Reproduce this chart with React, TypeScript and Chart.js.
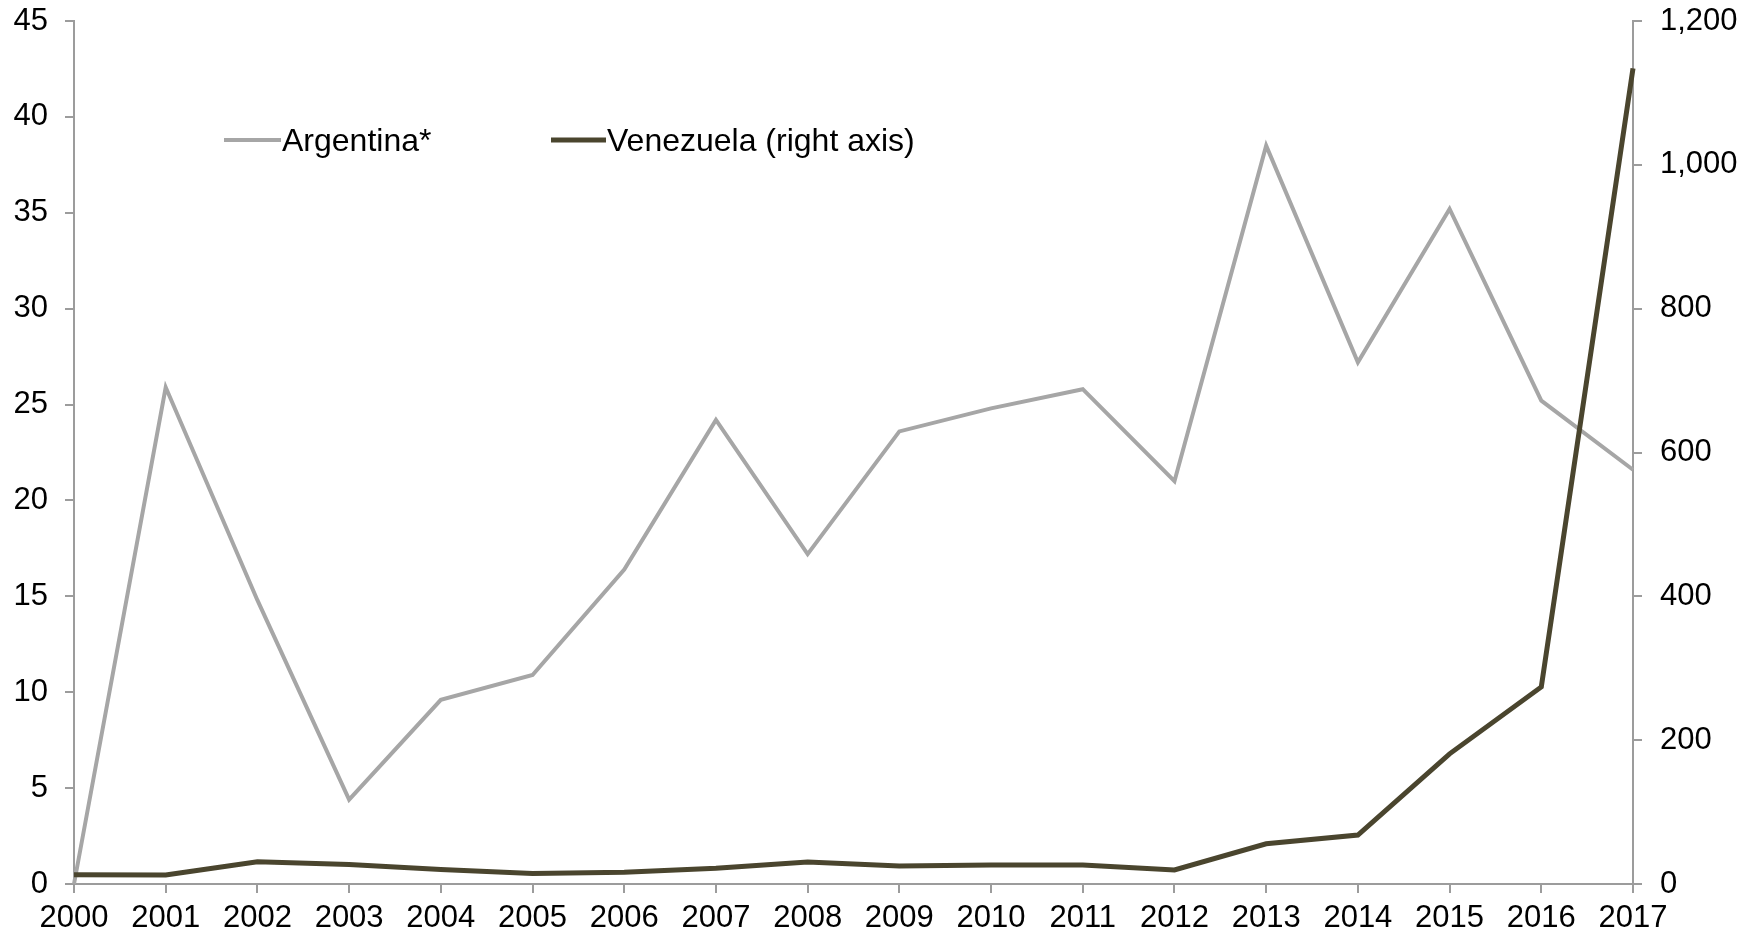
import React, { useEffect, useRef } from "react";
import { Chart, registerables } from "chart.js";

Chart.register(...registerables);

const years = ["2000","2001","2002","2003","2004","2005","2006","2007","2008","2009","2010","2011","2012","2013","2014","2015","2016","2017"];
const argentina = [0, 25.9, 14.8, 4.4, 9.6, 10.9, 16.4, 24.2, 17.2, 23.6, 24.8, 25.8, 21.0, 38.5, 27.2, 35.2, 25.2, 21.6];
const venezuela = [13, 12.5, 31, 27, 20, 14.5, 16.5, 22, 30.5, 25, 26.5, 26.5, 19.5, 56, 68, 181, 274, 1134];
const leftTicks = [0, 45, 5];
const rightTicks = [0, 1200, 200];

const FONT = "'Liberation Sans', Arial, Helvetica, sans-serif";
const GRAY = "#A6A6A6";
const OLIVE = "#4A452E";
const AXIS = "#9C9C9C";

const legendPlugin = {
  id: "customLegend",
  afterDraw(chart: any) {
    const ctx = chart.ctx;
    const items = [
      { ds: chart.data.datasets[0], x0: 224, x1: 281 },
      { ds: chart.data.datasets[1], x0: 551, x1: 606 },
    ];
    const y = 140;
    ctx.save();
    ctx.font = `32px ${FONT}`;
    ctx.textBaseline = "middle";
    ctx.textAlign = "left";
    for (const it of items) {
      ctx.strokeStyle = it.ds.borderColor;
      ctx.lineWidth = it.ds.borderWidth;
      ctx.beginPath();
      ctx.moveTo(it.x0, y);
      ctx.lineTo(it.x1, y);
      ctx.stroke();
      ctx.fillStyle = "#000";
      ctx.fillText(it.ds.label, it.x1 + 1, y + 2);
    }
    ctx.restore();
  },
};

export default function App() {
  const ref = useRef<HTMLCanvasElement>(null);
  useEffect(() => {
    document.body.style.margin = "0";
    const tickFont = { family: FONT, size: 31 };
    const gridCfg = {
      display: true,
      drawOnChartArea: false,
      drawTicks: true,
      tickLength: 9,
      color: AXIS,
      lineWidth: 2,
    };
    const chart = new Chart(ref.current as HTMLCanvasElement, {
      type: "line",
      data: {
        labels: years,
        datasets: [
          {
            label: "Argentina*",
            data: argentina,
            borderColor: GRAY,
            backgroundColor: GRAY,
            borderWidth: 4,
            pointRadius: 0,
            tension: 0,
            yAxisID: "y",
            order: 1,
            clip: false as any,
          },
          {
            label: "Venezuela (right axis)",
            data: venezuela,
            borderColor: OLIVE,
            backgroundColor: OLIVE,
            borderWidth: 5,
            pointRadius: 0,
            tension: 0,
            yAxisID: "y1",
            order: 0,
            clip: false as any,
          },
        ],
      },
      options: {
        animation: false,
        responsive: false,
        devicePixelRatio: 1,
        layout: { padding: { top: 21, left: 0, right: 0, bottom: 0 } },
        plugins: {
          legend: { display: false },
          tooltip: { enabled: false },
        },
        scales: {
          x: {
            type: "category",
            offset: false,
            grid: gridCfg as any,
            border: { display: true, color: AXIS, width: 2 },
            ticks: {
              font: tickFont,
              color: "#000",
              padding: 7,
              maxRotation: 0,
              autoSkip: false,
            },
            afterFit: (s: any) => {
              s.height = 51;
              s.paddingLeft = 0;
              s.paddingRight = 0;
            },
          },
          y: {
            position: "left",
            min: leftTicks[0],
            max: leftTicks[1],
            grid: gridCfg as any,
            border: { display: true, color: AXIS, width: 2 },
            ticks: {
              stepSize: leftTicks[2],
              font: tickFont,
              color: "#000",
              padding: 17,
            },
            afterFit: (s: any) => {
              s.width = 74;
              s.paddingTop = 0;
              s.paddingBottom = 0;
            },
          },
          y1: {
            position: "right",
            min: rightTicks[0],
            max: rightTicks[1],
            grid: gridCfg as any,
            border: { display: true, color: AXIS, width: 2 },
            ticks: {
              stepSize: rightTicks[2],
              font: tickFont,
              color: "#000",
              padding: 18,
              callback: (v: any) => Number(v).toLocaleString("en-US"),
            },
            afterFit: (s: any) => {
              s.width = 124;
              s.paddingTop = 0;
              s.paddingBottom = 0;
            },
          },
        },
      },
      plugins: [legendPlugin],
    });
    return () => chart.destroy();
  }, []);
  return (
    <div style={{ position: "absolute", left: 0, top: 0, width: 1757, height: 935, background: "#fff" }}>
      <canvas ref={ref} width={1757} height={935} style={{ display: "block" }} />
    </div>
  );
}
